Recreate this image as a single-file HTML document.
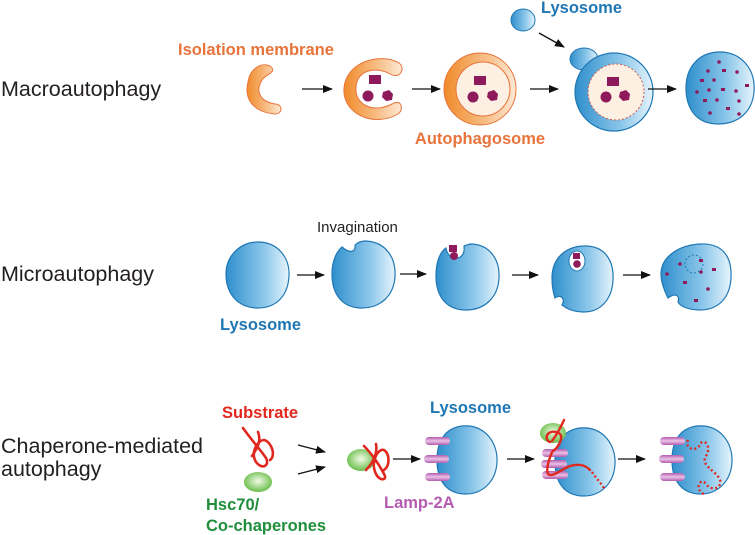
<!DOCTYPE html>
<html><head><meta charset="utf-8"><style>
html,body{margin:0;padding:0;background:#fff}
svg{display:block}
text{font-family:"Liberation Sans",Arial,sans-serif}
.lab{font-size:21.5px;fill:#231f20}
.b{font-weight:bold;font-size:16.5px}
</style></head><body>
<svg width="755" height="535" viewBox="0 0 755 535" xmlns="http://www.w3.org/2000/svg">
<defs>
<marker id="ah" markerWidth="10" markerHeight="8" refX="9" refY="4" orient="auto" markerUnits="userSpaceOnUse"><path d="M0,0 L10,4 L0,8 Z" fill="#111"/></marker>
<linearGradient id="bl" x1="0" y1="0" x2="1" y2="0"><stop offset="0" stop-color="#2f8fcc"/><stop offset="0.6" stop-color="#8cc7ea"/><stop offset="1" stop-color="#e6f4fc"/></linearGradient>
<linearGradient id="or" x1="0" y1="0" x2="1" y2="0"><stop offset="0" stop-color="#f08a2a"/><stop offset="0.6" stop-color="#f8c08a"/><stop offset="1" stop-color="#fde9d6"/></linearGradient>
<radialGradient id="gr" cx="0.5" cy="0.45" r="0.6"><stop offset="0" stop-color="#f2fbe8"/><stop offset="1" stop-color="#5cb83a"/></radialGradient>
<linearGradient id="pu" x1="0" y1="0" x2="0" y2="1"><stop offset="0" stop-color="#b45cb0"/><stop offset="0.5" stop-color="#e9c2e6"/><stop offset="1" stop-color="#b45cb0"/></linearGradient>
</defs>

<text x="1" y="96" class="lab">Macroautophagy</text>
<text x="1" y="281" class="lab">Microautophagy</text>
<text x="1" y="453" class="lab">Chaperone-mediated</text>
<text x="1" y="476" class="lab">autophagy</text>

<!-- Row 1 -->
<text x="178" y="55" class="b" fill="#e8743b">Isolation membrane</text>
<path d="M270,66 C262,62 250,68 248,82 C244,98 252,112 275,114 C283,114 283,104 275,104 C258,101 256,90 262,80 C266,74 278,72 270,66 Z" fill="url(#or)" stroke="#e8743b" stroke-width="1"/>
<line x1="302" y1="89" x2="332" y2="89" stroke="#111" stroke-width="1.3" marker-end="url(#ah)"/>
<path d="M399,63 C380,52 346,62 344,88 C342,114 374,128 398,114 C404,110 402,98 392,104 C372,114 355,104 356,88 C356,70 376,66 390,74 C400,80 406,68 399,63 Z" fill="url(#or)" stroke="#e8743b" stroke-width="1"/>
<rect x="369" y="75" width="12" height="9" fill="#8e1a5c"/>
<circle cx="368" cy="96" r="5.5" fill="#8e1a5c"/>
<path d="M383,92 l6,-2 l4,4 l-1,6 l-6,1 l-4,-4 Z" fill="#8e1a5c"/>
<line x1="412" y1="89" x2="440" y2="89" stroke="#111" stroke-width="1.3" marker-end="url(#ah)"/>
<circle cx="480" cy="89" r="36" fill="url(#or)" stroke="#e8743b" stroke-width="1"/>
<circle cx="483" cy="89" r="27" fill="#fdf0e2" stroke="#e8743b" stroke-width="1"/>
<rect x="474" y="76" width="12" height="9" fill="#8e1a5c"/>
<circle cx="473" cy="97" r="5.5" fill="#8e1a5c"/>
<path d="M488,92 l6,-2 l4,4 l-1,6 l-6,1 l-4,-4 Z" fill="#8e1a5c"/>
<text x="480" y="144" class="b" fill="#e8743b" text-anchor="middle">Autophagosome</text>
<line x1="530" y1="89" x2="558" y2="89" stroke="#111" stroke-width="1.3" marker-end="url(#ah)"/>
<text x="541" y="13" class="b" fill="#1f77b4">Lysosome</text>
<ellipse cx="523" cy="20" rx="12" ry="11" fill="url(#bl)" stroke="#1f77b4" stroke-width="1"/>
<line x1="539" y1="33" x2="564" y2="47" stroke="#111" stroke-width="1.3" marker-end="url(#ah)"/>
<ellipse cx="584" cy="59" rx="14" ry="11" fill="url(#bl)" stroke="#1f77b4" stroke-width="1"/>
<circle cx="614" cy="92" r="39" fill="url(#bl)" stroke="#1f77b4" stroke-width="1.2"/>
<circle cx="616" cy="92" r="28" fill="#fdf0e2" stroke="#d0584a" stroke-width="1" stroke-dasharray="2,2"/>
<rect x="607" y="77" width="12" height="9" fill="#8e1a5c"/>
<circle cx="606" cy="97" r="5.5" fill="#8e1a5c"/>
<path d="M620,92 l6,-2 l4,4 l-1,6 l-6,1 l-4,-4 Z" fill="#8e1a5c"/>
<line x1="648" y1="89" x2="676" y2="89" stroke="#111" stroke-width="1.3" marker-end="url(#ah)"/>
<path d="M720,52 C740,52 756,68 754,92 C752,114 736,124 718,124 C696,124 686,108 686,88 C686,66 700,52 720,52 Z" fill="url(#bl)" stroke="#1f77b4" stroke-width="1.2"/>
<g fill="#8e1a5c">
<circle cx="719" cy="62" r="1.8"/><circle cx="708" cy="71" r="1.8"/><rect x="722" y="69" width="4" height="3"/><circle cx="737" cy="72" r="1.8"/>
<rect x="700" y="79" width="4" height="3"/><circle cx="714" cy="80" r="1.8"/><rect x="745" y="84" width="4" height="3"/>
<circle cx="697" cy="92" r="1.8"/><circle cx="709" cy="90" r="1.8"/><rect x="721" y="88" width="4" height="3"/><circle cx="736" cy="91" r="1.8"/>
<rect x="703" y="99" width="4" height="3"/><circle cx="717" cy="100" r="1.8"/><circle cx="739" cy="101" r="1.8"/><rect x="726" y="107" width="4" height="3"/>
<circle cx="710" cy="113" r="1.8"/><circle cx="739" cy="114" r="1.8"/>
</g>

<!-- Row 2 -->
<text x="317" y="232" font-size="15" fill="#231f20">Invagination</text>
<path d="M258,242 C278,242 290,258 289,276 C288,296 276,308 258,308 C238,308 226,294 226,274 C226,256 240,242 258,242 Z" fill="url(#bl)" stroke="#1f77b4" stroke-width="1.2"/>
<text x="220" y="330" class="b" fill="#1f77b4">Lysosome</text>
<line x1="297" y1="275" x2="324" y2="275" stroke="#111" stroke-width="1.3" marker-end="url(#ah)"/>
<path d="M366,241 C386,242 396,258 395,276 C394,296 380,308 362,308 C342,308 332,294 332,274 C332,262 336,252 342,247 C350,254 356,252 355,245 C358,242 362,241 366,241 Z" fill="url(#bl)" stroke="#1f77b4" stroke-width="1.2"/>
<line x1="400" y1="274" x2="426" y2="274" stroke="#111" stroke-width="1.3" marker-end="url(#ah)"/>
<path d="M470,244 C490,244 500,260 499,278 C498,298 484,310 466,310 C446,310 436,296 436,276 C436,262 440,252 446,248 C448,262 466,262 464,246 Z" fill="url(#bl)" stroke="#1f77b4" stroke-width="1.2"/>
<rect x="449" y="245" width="8" height="7" fill="#8e1a5c"/><circle cx="454" cy="256" r="4" fill="#8e1a5c"/>
<line x1="512" y1="275" x2="538" y2="275" stroke="#111" stroke-width="1.3" marker-end="url(#ah)"/>
<path d="M585,246 C606,246 614,262 613,280 C612,300 600,312 584,312 C572,312 566,308 562,305 C566,298 560,294 555,298 C553,292 552,286 552,278 C552,258 566,246 585,246 Z" fill="url(#bl)" stroke="#1f77b4" stroke-width="1.2"/>
<ellipse cx="577" cy="261" rx="8" ry="10" fill="#fff" stroke="#1f77b4" stroke-width="1"/>
<rect x="573" y="253" width="7" height="6" fill="#8e1a5c"/><circle cx="577" cy="264" r="3.8" fill="#8e1a5c"/>
<line x1="623" y1="275" x2="650" y2="275" stroke="#111" stroke-width="1.3" marker-end="url(#ah)"/>
<path d="M700,244 C724,243 732,258 731,278 C730,298 718,310 700,310 C688,310 680,306 678,302 C680,296 676,292 668,298 C664,290 661,282 661,274 C661,256 680,245 700,244 Z" fill="url(#bl)" stroke="#1f77b4" stroke-width="1.2"/>
<circle cx="694" cy="264" r="9" fill="none" stroke="#1f77b4" stroke-width="1" stroke-dasharray="2,2"/>
<g fill="#8e1a5c"><circle cx="680" cy="264" r="1.8"/><rect x="699" y="259" width="4" height="3"/><circle cx="667" cy="274" r="1.8"/><circle cx="701" cy="272" r="1.8"/><rect x="712" y="268" width="4" height="3"/><rect x="683" y="281" width="4" height="3"/><circle cx="708" cy="289" r="1.8"/><rect x="694" y="299" width="4" height="3"/></g>

<!-- Row 3 -->
<text x="222" y="418" class="b" fill="#e0281f">Substrate</text>
<g fill="none" stroke="#e0281f" stroke-width="2.6" stroke-linecap="round">
<path d="M243,428 C250,438 262,452 266,458 C270,466 262,470 256,462 C250,452 258,440 264,440 C272,442 276,456 270,460"/>
<path d="M258,432 C262,442 256,450 252,456"/>
</g>
<ellipse cx="258" cy="482" rx="14" ry="10" fill="url(#gr)"/>
<text x="206" y="510" class="b" fill="#1f8f3c">Hsc70/</text>
<text x="206" y="531" class="b" fill="#1f8f3c">Co-chaperones</text>
<line x1="298" y1="445" x2="325" y2="452" stroke="#111" stroke-width="1.3" marker-end="url(#ah)"/>
<line x1="298" y1="474" x2="325" y2="467" stroke="#111" stroke-width="1.3" marker-end="url(#ah)"/>
<ellipse cx="361" cy="460" rx="14" ry="11" fill="url(#gr)"/>
<g fill="none" stroke="#e0281f" stroke-width="2.6" stroke-linecap="round">
<path d="M364,446 C372,454 380,466 384,474 C388,480 380,482 376,474 C370,462 378,448 384,450 C390,454 390,466 384,470"/>
<path d="M376,444 C378,454 372,464 366,470"/>
</g>
<line x1="393" y1="459" x2="420" y2="459" stroke="#111" stroke-width="1.3" marker-end="url(#ah)"/>
<text x="430" y="413" class="b" fill="#1f77b4">Lysosome</text>
<path d="M462,426 C486,424 498,444 497,462 C496,482 482,494 466,494 C446,494 437,480 437,460 C437,440 446,428 462,426 Z" fill="url(#bl)" stroke="#1f77b4" stroke-width="1.2"/>
<g fill="url(#pu)"><rect x="425" y="437" width="25" height="8" rx="4"/><rect x="424" y="455" width="25" height="8" rx="4"/><rect x="425" y="473" width="25" height="8" rx="4"/></g>
<text x="384" y="508" class="b" fill="#b45cb0">Lamp-2A</text>
<line x1="507" y1="459" x2="534" y2="459" stroke="#111" stroke-width="1.3" marker-end="url(#ah)"/>
<path d="M580,428 C604,426 616,446 615,464 C614,484 600,496 584,496 C564,496 555,482 555,462 C555,442 564,430 580,428 Z" fill="url(#bl)" stroke="#1f77b4" stroke-width="1.2"/>
<g fill="url(#pu)"><rect x="542" y="449" width="26" height="8" rx="4"/><rect x="541" y="460" width="26" height="8" rx="4"/><rect x="542" y="471" width="26" height="8" rx="4"/></g>
<ellipse cx="553" cy="433" rx="13" ry="10" fill="url(#gr)"/>
<g fill="none" stroke="#e0281f" stroke-width="2.4" stroke-linecap="round">
<path d="M550,442 C544,440 546,430 556,432 C566,434 560,446 552,452 C548,462 546,470 548,474 C552,478 560,470 570,466 C578,464 584,464 590,470"/>
<path d="M552,441 C560,430 562,424 564,420"/>
</g>
<path d="M592,472 C596,478 600,482 604,488" fill="none" stroke="#e0281f" stroke-width="2.4" stroke-dasharray="2,2.5"/>
<line x1="618" y1="459" x2="645" y2="459" stroke="#111" stroke-width="1.3" marker-end="url(#ah)"/>
<path d="M697,426 C721,424 733,444 732,462 C731,482 717,494 701,494 C681,494 672,480 672,460 C672,440 681,428 697,426 Z" fill="url(#bl)" stroke="#1f77b4" stroke-width="1.2"/>
<g fill="url(#pu)"><rect x="660" y="437" width="25" height="8" rx="4"/><rect x="659" y="455" width="25" height="8" rx="4"/><rect x="660" y="473" width="25" height="8" rx="4"/></g>
<path d="M688,440 C684,450 698,452 700,444 C704,438 712,446 706,456 C700,466 716,470 720,480 C722,488 712,492 706,484 C700,476 694,490 704,494" fill="none" stroke="#e0281f" stroke-width="2.4" stroke-dasharray="2,2.5"/>
</svg>
</body></html>
